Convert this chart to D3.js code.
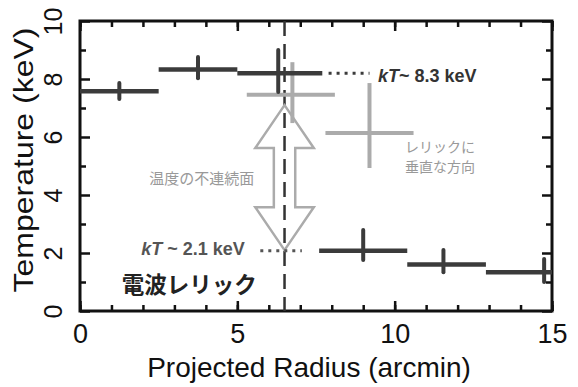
<!doctype html>
<html lang="ja">
<head>
	<meta charset="UTF-8">
	<title>Temperature profile</title>
	<style>
		body { margin: 0; background: #fff; }
		svg { display: block; font-family: "Liberation Sans", Arial, Helvetica, sans-serif; }
		.tick line { stroke: #111; stroke-width: 2.5; }
		.jp { font-family: "Noto Sans CJK JP", sans-serif; }
	</style>
</head>
<body>
	<script src="https://cdn.jsdelivr.net/npm/d3@7"></script>
	<script>
		// dark series: main temperature profile
		var binLo = [0, 2.5, 5.0, 7.6, 10.4, 12.9],
			binHi = [2.5, 5.0, 7.7, 10.4, 12.9, 15.0],
			errX = [1.25, 3.75, 6.3, 9.0, 11.55, 14.75],
			temp = [7.58, 8.33, 8.2, 2.08, 1.6, 1.34],
			errLo = [7.31, 8.03, 7.55, 1.76, 1.34, 1.0],
			errHi = [7.86, 8.76, 9.0, 2.79, 2.1, 1.79];

		// light grey series (perpendicular direction)
		var grayLo = [5.3, 7.8],
			grayHi = [8.1, 10.6],
			grayX = [6.75, 9.2],
			grayT = [7.46, 6.14],
			grayErrLo = [6.48, 4.93],
			grayErrHi = [8.58, 7.86];

		var xMajor = [0, 5, 10, 15],
			xMinor = d3.range(0, 16),
			yMajor = [0, 2, 4, 6, 8, 10],
			yMinor = [1, 3, 5, 7, 9];

		var relicX = 6.5,
			hotLabel = 'kT~ 8.3 keV',
			coldLabel = 'kT ~ 2.1 keV';

		var w = 578,
			h = 387,
			margin = {top: 21, right: 26, bottom: 76, left: 80};

		var svg = d3.select('body').append('svg')
			.attr('width', w)
			.attr('height', h);

		var x = d3.scaleLinear().domain([0, 15]).range([margin.left, w - margin.right]),
			y = d3.scaleLinear().domain([0, 10]).range([h - margin.bottom, margin.top]);

		var dark = '#3b3b3b',
			grey = '#ababab';

		// ---- axes (ticks inside, mirrored)
		var drawAxis = function(axis, tx, ty, vals, size, labels) {
			var g = svg.append('g')
				.attr('transform', 'translate(' + tx + ',' + ty + ')')
				.call(axis.tickValues(vals).tickSize(-size).tickPadding(labels ? 13 : 0)
					.tickFormat(labels ? d3.format('d') : ''));
			g.select('.domain').remove();
			return g;
		};

		var xb = drawAxis(d3.axisBottom(x), 0, y(0), xMajor, 10, true);
		xb.selectAll('text').attr('font-size', 27).attr('fill', '#111');
		drawAxis(d3.axisBottom(x), 0, y(0), xMinor, 6, false);
		drawAxis(d3.axisTop(x), 0, y(10), xMajor, 10, false);
		drawAxis(d3.axisTop(x), 0, y(10), xMinor, 6, false);

		var yl = drawAxis(d3.axisLeft(y), x(0), 0, yMajor, 10, true);
		yl.selectAll('text')
			.attr('font-size', 25)
			.attr('fill', '#111')
			.attr('text-anchor', 'middle')
			.attr('x', 0)
			.attr('y', -18)
			.attr('dy', 0)
			.attr('transform', 'rotate(-90)');
		drawAxis(d3.axisLeft(y), x(0), 0, yMinor, 6, false);
		drawAxis(d3.axisRight(y), x(15), 0, yMajor, 10, false);
		drawAxis(d3.axisRight(y), x(15), 0, yMinor, 6, false);

		svg.append('rect')
			.attr('x', x(0))
			.attr('y', y(10))
			.attr('width', x(15) - x(0))
			.attr('height', y(0) - y(10))
			.attr('fill', 'none')
			.attr('stroke', '#111')
			.attr('stroke-width', 3);

		// axis titles
		svg.append('text')
			.attr('x', 309)
			.attr('y', 377)
			.attr('text-anchor', 'middle')
			.attr('font-size', 28)
			.attr('fill', '#111')
			.text('Projected Radius (arcmin)');

		svg.append('text')
			.attr('transform', 'translate(33,160) rotate(-90)')
			.attr('text-anchor', 'middle')
			.attr('font-size', 28)
			.attr('fill', '#111')
			.attr('textLength', 265)
			.attr('lengthAdjust', 'spacingAndGlyphs')
			.text('Temperature (keV)');

		// ---- relic position (dashed)
		svg.append('line')
			.attr('x1', x(relicX)).attr('x2', x(relicX))
			.attr('y1', y(10)).attr('y2', y(0))
			.attr('stroke', '#333')
			.attr('stroke-width', 2.5)
			.attr('stroke-dasharray', '15,8');

		// ---- hollow double arrow
		var arrow = {top: 7.1, bottom: 2.1, head: 1.48, headHalf: 0.93, shaftHalf: 0.34};
		var ax = function(d) { return x(relicX + d); };
		var arrowPts = [
			[ax(0), y(arrow.top)],
			[ax(arrow.headHalf), y(arrow.top - arrow.head)],
			[ax(arrow.shaftHalf), y(arrow.top - arrow.head)],
			[ax(arrow.shaftHalf), y(arrow.bottom + arrow.head)],
			[ax(arrow.headHalf), y(arrow.bottom + arrow.head)],
			[ax(0), y(arrow.bottom)],
			[ax(-arrow.headHalf), y(arrow.bottom + arrow.head)],
			[ax(-arrow.shaftHalf), y(arrow.bottom + arrow.head)],
			[ax(-arrow.shaftHalf), y(arrow.top - arrow.head)],
			[ax(-arrow.headHalf), y(arrow.top - arrow.head)]
		];
		svg.append('path')
			.attr('d', d3.line()(arrowPts) + 'Z')
			.attr('fill', 'none')
			.attr('stroke', grey)
			.attr('stroke-width', 2.5)
			.attr('stroke-linejoin', 'miter');

		// ---- grey crosses
		var gIdx = d3.range(grayT.length);
		svg.selectAll('.gh').data(gIdx).enter().append('line')
			.attr('x1', function(i) { return x(grayLo[i]); })
			.attr('x2', function(i) { return x(grayHi[i]); })
			.attr('y1', function(i) { return y(grayT[i]); })
			.attr('y2', function(i) { return y(grayT[i]); })
			.attr('stroke', grey).attr('stroke-width', 4);
		svg.selectAll('.gv').data(gIdx).enter().append('line')
			.attr('x1', function(i) { return x(grayX[i]); })
			.attr('x2', function(i) { return x(grayX[i]); })
			.attr('y1', function(i) { return y(grayErrLo[i]); })
			.attr('y2', function(i) { return y(grayErrHi[i]); })
			.attr('stroke', grey).attr('stroke-width', 4);

		// ---- dark profile
		var idx = d3.range(temp.length);
		svg.selectAll('.dh').data(idx).enter().append('line')
			.attr('x1', function(i) { return x(binLo[i]); })
			.attr('x2', function(i) { return x(binHi[i]); })
			.attr('y1', function(i) { return y(temp[i]); })
			.attr('y2', function(i) { return y(temp[i]); })
			.attr('stroke', dark).attr('stroke-width', 4.5);
		svg.selectAll('.dv').data(idx).enter().append('line')
			.attr('x1', function(i) { return x(errX[i]); })
			.attr('x2', function(i) { return x(errX[i]); })
			.attr('y1', function(i) { return y(errLo[i]); })
			.attr('y2', function(i) { return y(errHi[i]); })
			.attr('stroke', dark).attr('stroke-width', 4)
			.attr('stroke-linecap', 'round');

		// ---- dotted guides + kT labels
		var dotted = function(x1, x2, t, col) {
			svg.append('line')
				.attr('x1', x(x1)).attr('x2', x(x2))
				.attr('y1', y(t)).attr('y2', y(t))
				.attr('stroke', col).attr('stroke-width', 3)
				.attr('stroke-dasharray', '3,5');
		};
		dotted(7.9, 9.2, temp[2], dark);
		dotted(5.73, 7.05, temp[3], '#555');

		var kTLabel = function(str, px, py, anchor, col) {
			var t = svg.append('text')
				.attr('x', x(px)).attr('y', y(py))
				.attr('text-anchor', anchor)
				.attr('font-size', 18)
				.attr('font-weight', 'bold')
				.attr('fill', col);
			t.append('tspan').attr('font-style', 'italic').text(str.slice(0, 2));
			t.append('tspan').text(str.slice(2));
		};
		kTLabel(hotLabel, 9.47, 7.88, 'start', '#333');
		kTLabel(coldLabel, 5.24, 1.92, 'end', '#555');

		// ---- japanese annotations
		svg.append('text').attr('class', 'jp')
			.attr('x', x(1.33)).attr('y', y(0.63))
			.attr('font-size', 22.5).attr('font-weight', 'bold').attr('fill', '#222')
			.text('電波レリック');

		svg.append('text').attr('class', 'jp')
			.attr('x', x(2.2)).attr('y', y(4.38))
			.attr('font-size', 15).attr('fill', '#999')
			.text('温度の不連続面');

		svg.append('text').attr('class', 'jp')
			.attr('x', x(10.33)).attr('y', y(5.48))
			.attr('font-size', 14).attr('fill', '#999')
			.text('レリックに');
		svg.append('text').attr('class', 'jp')
			.attr('x', x(10.33)).attr('y', y(4.78))
			.attr('font-size', 14).attr('fill', '#999')
			.text('垂直な方向');
	</script>
</body>
</html>
